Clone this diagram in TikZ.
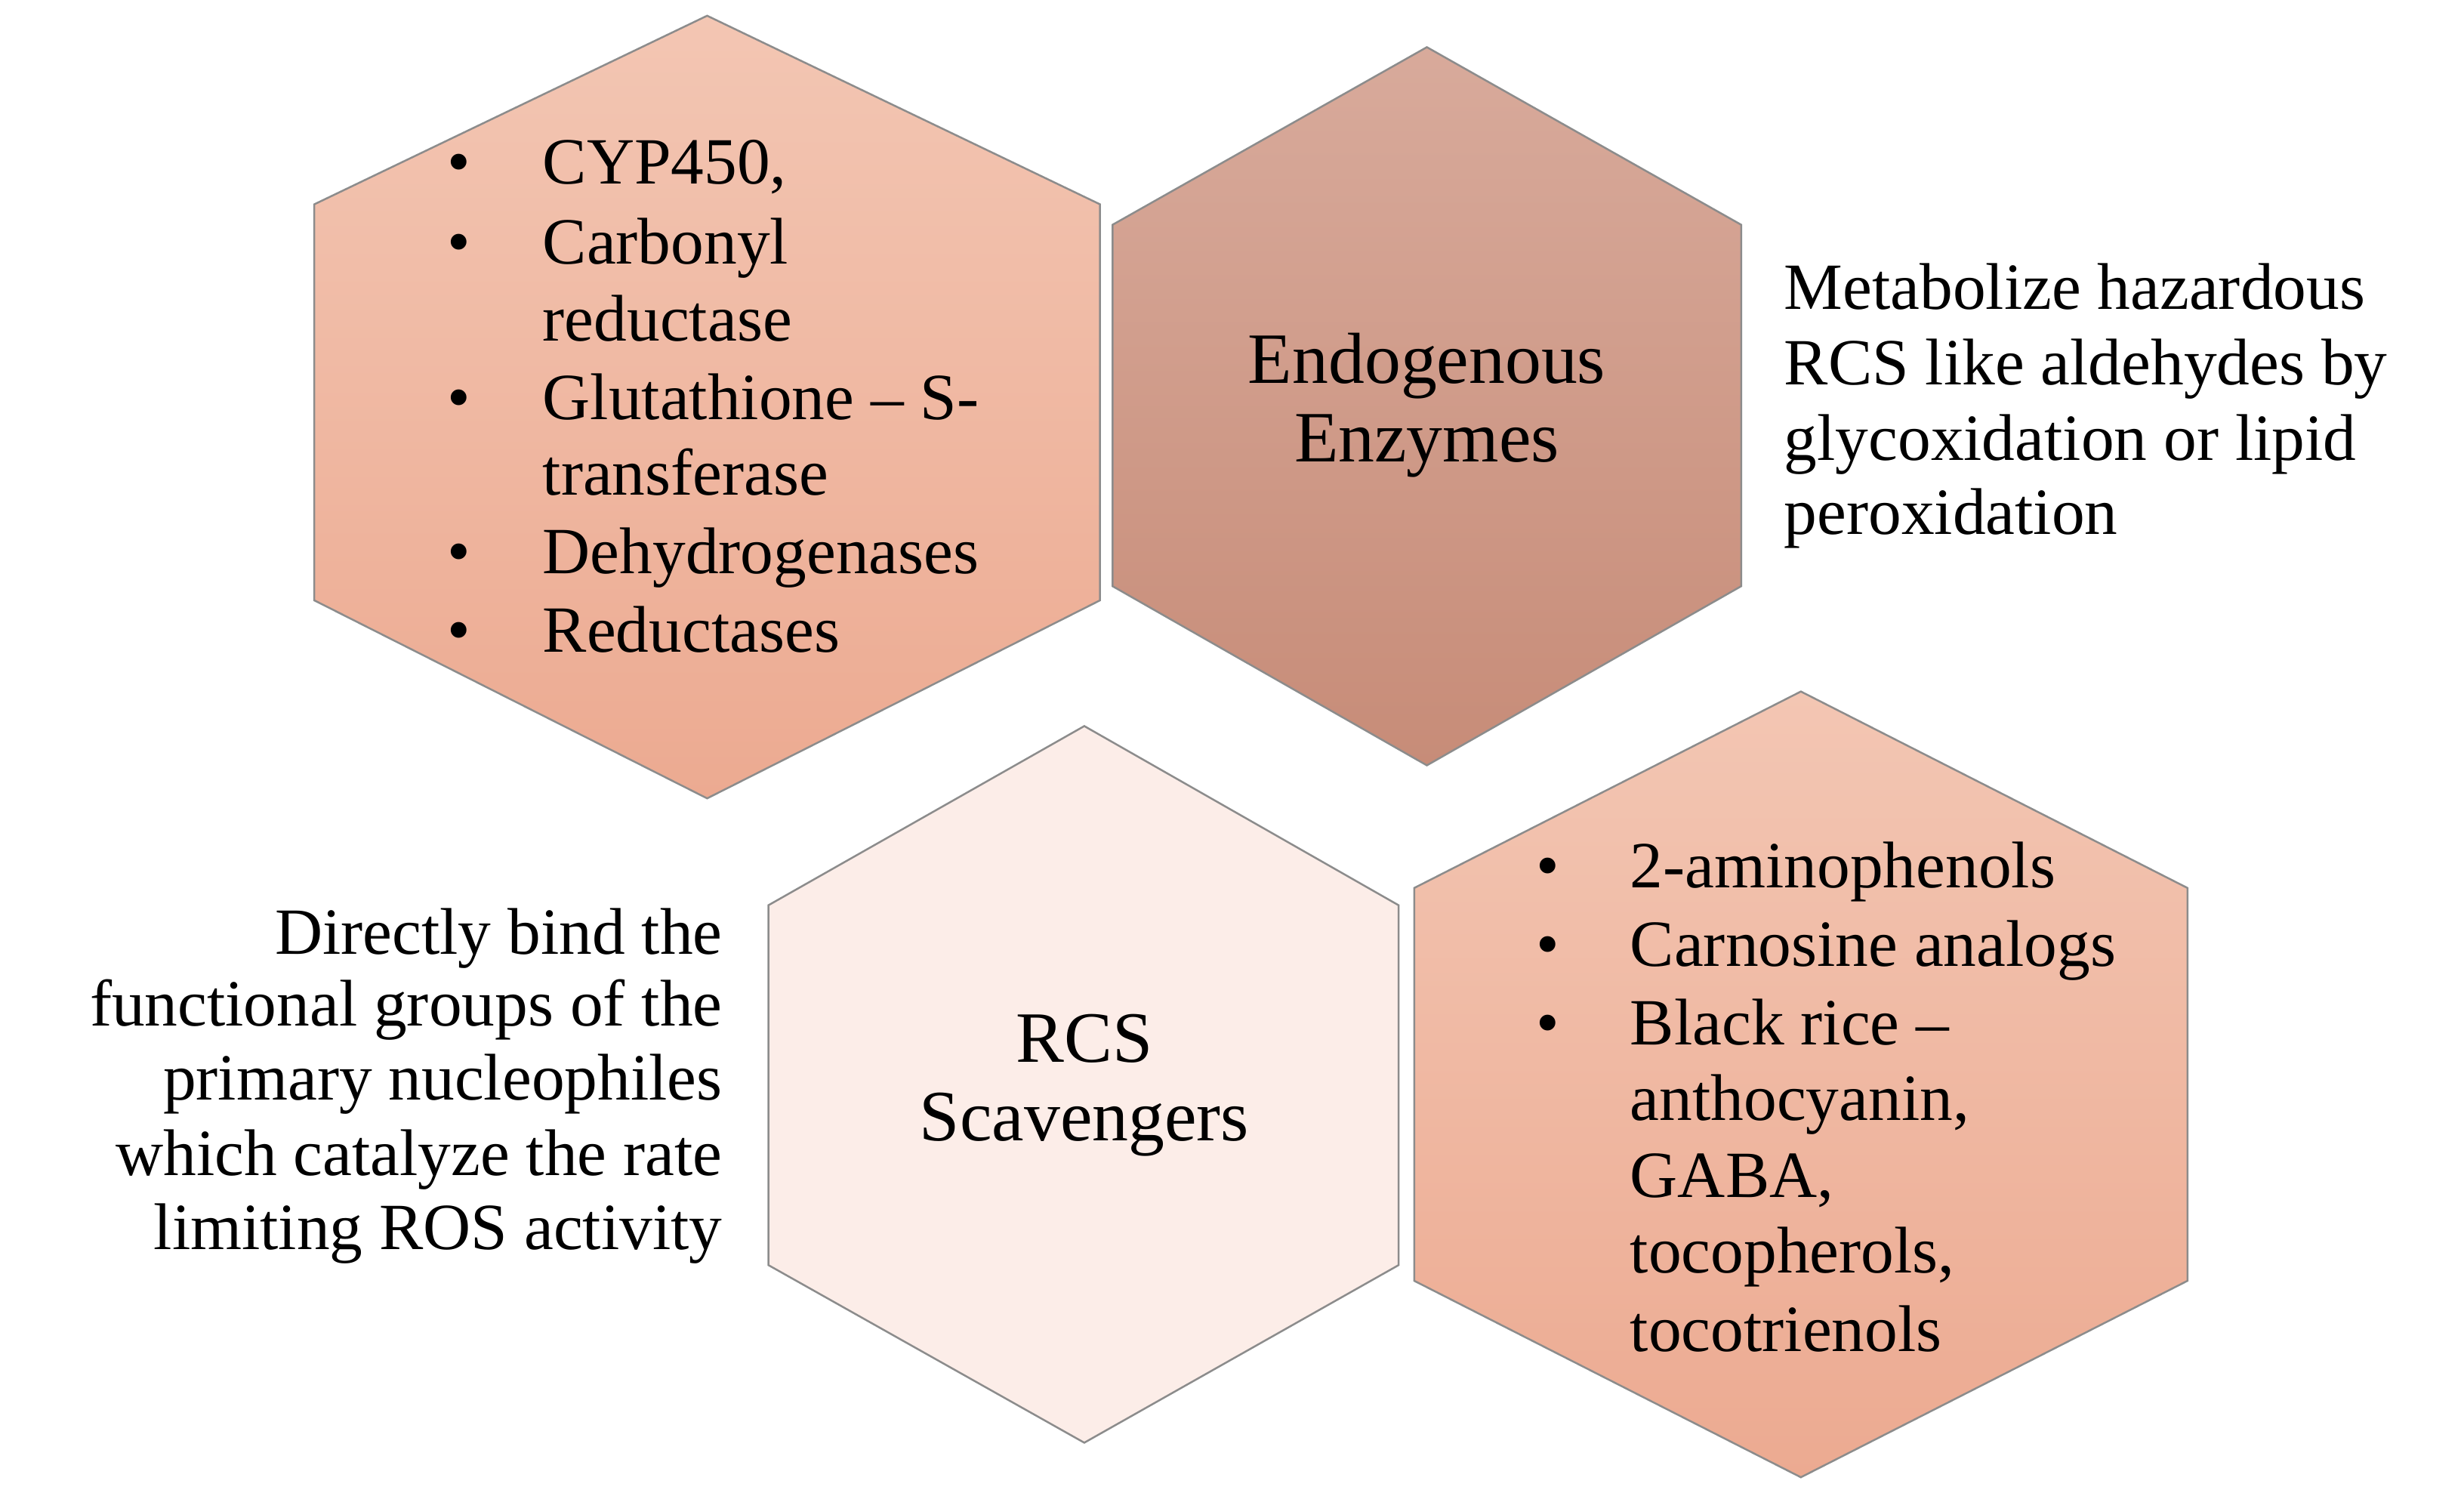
\documentclass[tikz,border=0pt]{standalone}
\usepackage{fontspec}
\setmainfont{Liberation Serif}
\begin{document}
\begin{tikzpicture}[x=0.5pt,y=-0.5pt,
  txt/.style={inner sep=0pt,font=\fontsize{21}{25}\selectfont,text height=14pt,text depth=4pt},
  big/.style={inner sep=0pt,font=\fontsize{23}{27}\selectfont,text height=15pt,text depth=4pt},
  hexline/.style={draw=black!45,line width=0.6pt}]
\useasboundingbox (0,0) rectangle (1568,950);
\definecolor{hA}{HTML}{F3C6B3}\definecolor{hB}{HTML}{ECAA91}
\definecolor{eA}{HTML}{D8AA9B}\definecolor{eB}{HTML}{C78C78}
\definecolor{sA}{HTML}{FCEDE8}
% hex1
\shade[top color=hA,bottom color=hB] (450,10)--(700,130)--(700,382)--(450,508)--(200,382)--(200,130)--cycle;
\draw[hexline] (450,10)--(700,130)--(700,382)--(450,508)--(200,382)--(200,130)--cycle;
% hex2
\shade[top color=eA,bottom color=eB] (908,30)--(1108,143)--(1108,373)--(908,487)--(708,373)--(708,143)--cycle;
\draw[hexline] (908,30)--(1108,143)--(1108,373)--(908,487)--(708,373)--(708,143)--cycle;
% hex3
\fill[sA] (690,462)--(890,576)--(890,805)--(690,918)--(489,805)--(489,576)--cycle;
\draw[hexline] (690,462)--(890,576)--(890,805)--(690,918)--(489,805)--(489,576)--cycle;
% hex4
\shade[top color=hA,bottom color=hB] (1146,440)--(1392,565)--(1392,815)--(1146,940)--(900,815)--(900,565)--cycle;
\draw[hexline] (1146,440)--(1392,565)--(1392,815)--(1146,940)--(900,815)--(900,565)--cycle;
% hex1 text
\foreach \y in {107,158,257,355,405}{\node[txt] at (292,\y) {•};}
\node[txt,anchor=west] (a1) at (345,107) {CYP450,};
\node[txt,anchor=west] (a2) at (345,158) {Carbonyl};
\node[txt,anchor=west] (a3) at (345,207) {reductase};
\node[txt,anchor=west] (a4) at (345,257) {Glutathione – S-};
\node[txt,anchor=west] (a5) at (345,305) {transferase};
\node[txt,anchor=west] (a6) at (345,355) {Dehydrogenases};
\node[txt,anchor=west] (a7) at (345,405) {Reductases};
% hex2 text
\node[big] (e1) at (908,233) {Endogenous};
\node[big] (e2) at (908,283) {Enzymes};
% right text
\node[txt,anchor=west] (r1) at (1135,187) {Metabolize hazardous};
\node[txt,anchor=west] (r2) at (1135,235) {RCS like aldehydes by};
\node[txt,anchor=west] (r3) at (1135,283) {glycoxidation or lipid};
\node[txt,anchor=west] (r4) at (1135,330) {peroxidation};
% hex3 text
\node[big] (s1) at (690,665) {RCS};
\node[big] (s2) at (690,715) {Scavengers};
% left text
\node[txt,anchor=east] (l1) at (460,597) {Directly bind the};
\node[txt,anchor=east] (l2) at (460,643) {functional groups of the};
\node[txt,anchor=east] (l3) at (460,690) {primary nucleophiles};
\node[txt,anchor=east] (l4) at (460,738) {which catalyze the rate};
\node[txt,anchor=east] (l5) at (460,785) {limiting ROS activity};
% hex4 text
\foreach \y in {555,605,655}{\node[txt] at (985,\y) {•};}
\node[txt,anchor=west] (b1) at (1037,555) {2-aminophenols};
\node[txt,anchor=west] (b2) at (1037,605) {Carnosine analogs};
\node[txt,anchor=west] (b3) at (1037,655) {Black rice –};
\node[txt,anchor=west] (b4) at (1037,703) {anthocyanin,};
\node[txt,anchor=west] (b5) at (1037,752) {GABA,};
\node[txt,anchor=west] (b6) at (1037,800) {tocopherols,};
\node[txt,anchor=west] (b7) at (1037,850) {tocotrienols};
\end{tikzpicture}
\end{document}
